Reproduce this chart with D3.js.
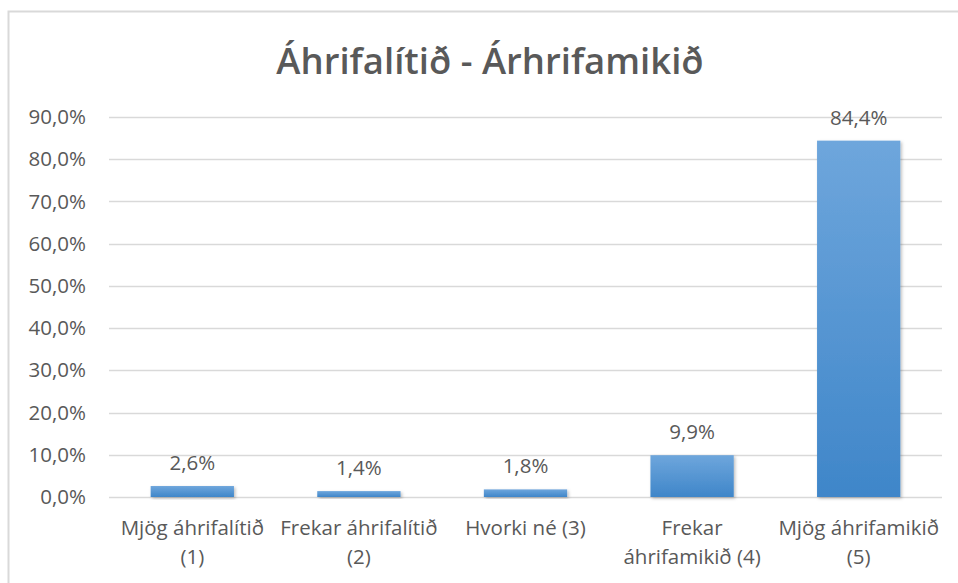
<!DOCTYPE html>
<meta charset="utf-8">
<script src="https://cdn.jsdelivr.net/npm/d3@7"></script>
<style>
body { margin: 0; background: #fff; }
text { font-family: "Open Sans", "Noto Sans", sans-serif; fill: #595959; }
.grid line { stroke: #d9d9d9; stroke-width: 1.3px; }
</style>
<body>
<script>
// data
var categories = [
  ["Mjög áhrifalítið", "(1)"],
  ["Frekar áhrifalítið", "(2)"],
  ["Hvorki né (3)"],
  ["Frekar", "áhrifamikið (4)"],
  ["Mjög áhrifamikið", "(5)"]
];
var values = [2.6, 1.4, 1.8, 9.9, 84.4];
var yTicks = [0, 10, 20, 30, 40, 50, 60, 70, 80, 90];
var title = "Áhrifalítið - Árhrifamikið";

var width = 958, height = 583;
var margin = {top: 117, right: 16, bottom: 86, left: 109};

var svg = d3.select("body").append("svg")
    .attr("width", width)
    .attr("height", height);

var defs = svg.append("defs");
var grad = defs.append("linearGradient")
    .attr("id", "barGrad")
    .attr("x1", 0).attr("y1", 0).attr("x2", 0).attr("y2", 1);
grad.append("stop").attr("offset", "0%").attr("stop-color", "#6ea6dc");
grad.append("stop").attr("offset", "100%").attr("stop-color", "#3f86c9");

var shadow = defs.append("filter").attr("id", "shadow")
    .attr("x", "-20%").attr("y", "-20%").attr("width", "140%").attr("height", "140%");
shadow.append("feDropShadow")
    .attr("dx", 1.5).attr("dy", 1.5).attr("stdDeviation", 1.5)
    .attr("flood-color", "#000").attr("flood-opacity", 0.25);

// chart frame (runs off the right and bottom of the picture)
svg.append("rect")
    .attr("x", 8.5).attr("y", 11.5)
    .attr("width", 980).attr("height", 620)
    .attr("fill", "none")
    .attr("stroke", "#d9d9d9")
    .attr("stroke-width", 2);

var x = d3.scaleBand()
    .domain(d3.range(categories.length))
    .range([margin.left, width - margin.right])
    .paddingInner(0.5)
    .paddingOuter(0.25);

var y = d3.scaleLinear()
    .domain([0, 90])
    .range([height - margin.bottom, margin.top]);

var fmt = function(v) { return d3.format(".1f")(v).replace(".", ",") + "%"; };

// gridlines
svg.append("g")
    .attr("class", "grid")
    .selectAll("line")
    .data(yTicks)
    .enter().append("line")
    .attr("x1", margin.left)
    .attr("x2", width - margin.right)
    .attr("y1", function(d) { return Math.round(y(d)) + 0.5; })
    .attr("y2", function(d) { return Math.round(y(d)) + 0.5; });

// y axis labels
var yAxis = d3.axisLeft(y)
    .tickValues(yTicks)
    .tickSize(0)
    .tickPadding(23)
    .tickFormat(fmt);

var ya = svg.append("g")
    .attr("transform", "translate(" + margin.left + ",0)")
    .call(yAxis);
ya.select(".domain").remove();
ya.selectAll("text")
    .attr("fill", "#595959")
    .style("font-size", "20.5px")
    .style("font-family", "\"Open Sans\", sans-serif");

// bars
svg.append("g")
    .selectAll("rect")
    .data(values)
    .enter().append("rect")
    .attr("x", function(d, i) { return x(i); })
    .attr("y", function(d) { return y(d); })
    .attr("width", x.bandwidth())
    .attr("height", function(d) { return y(0) - y(d); })
    .attr("fill", "url(#barGrad)")
    .attr("filter", "url(#shadow)");

// value labels
svg.append("g")
    .selectAll("text")
    .data(values)
    .enter().append("text")
    .attr("x", function(d, i) { return x(i) + x.bandwidth() / 2; })
    .attr("y", function(d) { return y(d) - 16; })
    .attr("text-anchor", "middle")
    .style("font-size", "20.5px")
    .text(fmt);

// category labels
var cat = svg.append("g")
    .selectAll("text")
    .data(categories)
    .enter().append("text")
    .attr("text-anchor", "middle")
    .attr("transform", function(d, i) {
      return "translate(" + (x(i) + x.bandwidth() / 2) + "," + (y(0) + 38) + ")";
    })
    .style("font-size", "20.5px");

cat.selectAll("tspan")
    .data(function(d) { return d; })
    .enter().append("tspan")
    .attr("x", 0)
    .attr("dy", function(d, i) { return i === 0 ? 0 : 29; })
    .text(function(d) { return d; });

// title
svg.append("text")
    .attr("x", 490)
    .attr("y", 74)
    .attr("text-anchor", "middle")
    .style("font-size", "36.5px")
    .style("font-weight", "600")
    .text(title);
</script>
</body>
